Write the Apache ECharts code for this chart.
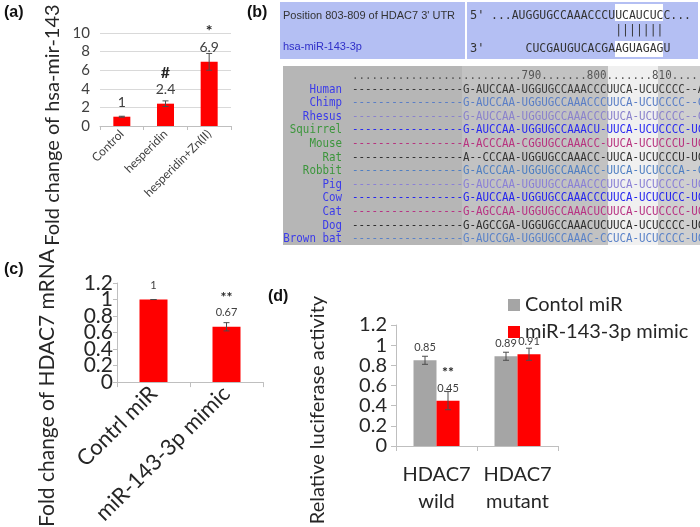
<!DOCTYPE html>
<html><head><meta charset="utf-8">
<script src="https://cdn.jsdelivr.net/npm/echarts@6/dist/echarts.min.js"></script>
<style>html,body{margin:0;padding:0;background:#fff}#c{width:700px;height:527px}</style>
</head><body><div id="c"></div>
<script>
// ---- Panel (a) ----
const catsA = ['Control', 'hesperidin', 'hesperidin+Zn(II)'];
const valsA = [1, 2.4, 6.9];
const errA = [0.05, 0.3, 0.9];
const labelsA = ['1', '2.4', '6.9'];
const marksA = ['', '#', '*'];
const ticksA = [0, 10, 2];
// ---- Panel (c) ----
const catsC = ['Contrl miR', 'miR-143-3p mimic'];
const valsC = [1, 0.67];
const errC = [0, 0.05];
const labelsC = ['1', '0.67'];
const marksC = ['', '**'];
const tickValsC = [0, 0.2, 0.4, 0.6, 0.8, 1, 1.2];
const tickLabelsC = ['0', '0.2', '0.4', '0.6', '0.8', '1', '1.2'];
// ---- Panel (d) ----
const catsD = ['HDAC7\nwild', 'HDAC7\nmutant'];
const namesD = ['Contol miR', 'miR-143-3p mimic'];
const valsDctrl = [0.85, 0.89];
const valsDmimic = [0.45, 0.91];
const errDctrl = [0.04, 0.04];
const errDmimic = [0.09, 0.06];
const labelsDctrl = ['0.85', '0.89'];
const labelsDmimic = ['0.45', '0.91'];
const marksDmimic = ['**', ''];
const ticksCD = [0, 1.2, 0.2];
// ---- Panel (b) ----
const utrLabel = "Position 803-809 of HDAC7 3' UTR";
const mirLabel = 'hsa-miR-143-3p';
const utrSeq = '...AUGGUGCCAAACCCUUCAUCUCC...';
const pairSeq = '|||||||';
const mirSeq = 'CUCGAUGUCACGAAGUAGAGU';
const rulerText = '..........................790.......800.......810......';
const species = ['Human', 'Chimp', 'Rhesus', 'Squirrel', 'Mouse', 'Rat', 'Robbit', 'Pig', 'Cow', 'Cat', 'Dog', 'Brown bat'];
const alignSeqs = [
  '-----------------G-AUCCAA-UGGUGCCAAACCCUUCA-UCUCCCC--AA',
  '-----------------G-AUCCAA-UGGUGCCAAACCCUUCA-UCUCCCC--CA',
  '-----------------G-AUCCAA-UGGUGCCAAACCCUUCA-UCUCCCC--CA',
  '-----------------G-AUCCAA-UGGUGCCAAACU-UUCA-UCUCCCC-UCA',
  '-----------------A-ACCCAA-CGGUGCCAAACC-UUCA-UCUCCCU-UCA',
  '-----------------A--CCCAA-UGGUGCCAAACC-UUCA-UCUCCCU-UCA',
  '-----------------G-ACCCAA-UGGUGCCAAACC-UUCA-UCUCCCA--CA',
  '-----------------G-AUCCAA-UGUUGCCAAACCCUUCA-UCUCCCC-UCA',
  '-----------------G-AUCCAA-UGGUGCCAAACCCUUCA-UCUCUCC-UCA',
  '-----------------G-AGCCAA-UGGUGCCAAACUCUUCA-UCUCCCC-UCA',
  '-----------------G-AGCCGA-UGGUGCCAAACUCUUCA-UCUCCCC-UCA',
  '-----------------G-AUCCGA-UGGUGCCAAAC-CCUCA-UCUCCCC-UCA'
];
const speciesColors = ['#3b3bea','#3b3bea','#3b3bea','#3c963c','#3c963c','#3c963c','#3c963c','#3b3bea','#3b3bea','#3b3bea','#3b3bea','#3b3bea'];
const seqColors = ['#3a3a3a','#5a7ec6','#8a82cc','#2a2af0','#b8337f','#333333','#4f7fc2','#8a80d6','#2626ee','#b83383','#2f2f2f','#5a82c8'];

const FONT = 'Lato';
const RED = '#ff0000';
const GRAY = '#a5a5a5';
const TXT = '#262626';

function errRender(offset) {
  return function (params, api) {
    const x = api.value(0), v = api.value(1), e = api.value(2);
    const t = api.coord([x, v + e]);
    const b = api.coord([x, v - e]);
    const cx = t[0] + offset;
    const st = { stroke: '#4d4d4d', lineWidth: 1 };
    return { type: 'group', children: [
      { type: 'line', shape: { x1: cx, y1: t[1], x2: cx, y2: b[1] }, style: st },
      { type: 'line', shape: { x1: cx - 3, y1: t[1], x2: cx + 3, y2: t[1] }, style: st },
      { type: 'line', shape: { x1: cx - 3, y1: b[1], x2: cx + 3, y2: b[1] }, style: st }
    ] };
  };
}
function tickLabelRender(params, api) {
  const v = api.value(1);
  const p = api.coord([0, v]);
  return { type: 'text', x: params.coordSys.x - 4, y: p[1],
    style: { text: tickLabelsC[params.dataIndex], fill: TXT, fontSize: 21, fontFamily: FONT,
      align: 'right', verticalAlign: 'middle' } };
}
function richLabel(labels, marks, mSize, vSize, mLH, vLH) {
  return {
    show: true, position: 'top', distance: 6,
    formatter: p => (marks[p.dataIndex] ? '{m|' + marks[p.dataIndex] + '}\n' : '') + '{v|' + labels[p.dataIndex] + '}',
    rich: {
      m: { fontSize: mSize, lineHeight: mLH, color: TXT, fontFamily: FONT, fontWeight: 'bold' },
      v: { fontSize: vSize, lineHeight: vLH, color: '#404040', fontFamily: FONT }
    }
  };
}
const axisLineGray = { show: true, lineStyle: { color: '#bfbfbf', width: 1 } };

const graphics = [];
function txt(x, y, text, o) {
  o = o || {};
  graphics.push({ type: 'text', x: x, y: y, rotation: o.rotation || 0, scaleX: o.scaleX || 1,
    style: { text: text, fill: o.color || TXT, fontSize: o.size || 12, fontFamily: o.family || FONT,
      fontWeight: o.weight || 'normal', align: o.align || 'left', verticalAlign: 'middle' } });
}
function rect(x, y, w, h, fill) {
  graphics.push({ type: 'rect', shape: { x: x, y: y, width: w, height: h }, style: { fill: fill } });
}
// panel labels
txt(4, 13, '(a)', { size: 16, weight: 'bold', family: 'Liberation Sans', color: '#111' });
txt(247, 13, '(b)', { size: 16, weight: 'bold', family: 'Liberation Sans', color: '#111' });
txt(4, 270, '(c)', { size: 16, weight: 'bold', family: 'Liberation Sans', color: '#111' });
txt(268, 297, '(d)', { size: 16, weight: 'bold', family: 'Liberation Sans', color: '#111' });
// axis titles
txt(53, 125, 'Fold change of hsa-mir-143', { size: 20, align: 'center', rotation: Math.PI / 2 });
txt(47, 388, 'Fold change of HDAC7 mRNA', { size: 21, align: 'center', rotation: Math.PI / 2 });
txt(318, 410, 'Relative luciferase activity', { size: 20, align: 'center', rotation: Math.PI / 2 });

// panel (b) upper box
rect(280, 2, 418, 57, '#b4bff3');
rect(465, 2, 2, 57, '#ffffff');
rect(615, 4, 48, 17, '#ffffff');
rect(615, 41, 48, 16, '#ffffff');
txt(283, 16, utrLabel, { size: 11, family: 'Liberation Sans', color: '#333' });
txt(283, 47, mirLabel, { size: 11, family: 'Liberation Sans', color: '#2f2fc8' });
const MONO = 'DejaVu Sans Mono';
txt(470, 16, "5'", { size: 12, family: MONO, color: '#333' });
txt(470, 49, "3'", { size: 12, family: MONO, color: '#333' });
const upW = 6.9;
txt(491, 16, utrSeq, { size: 12.6, family: MONO, color: '#333', scaleX: upW / (12.6 * 0.602) });
txt(491 + 18 * upW, 31, pairSeq, { size: 12.6, family: MONO, color: '#333', scaleX: upW / (12.6 * 0.602) });
txt(491 + 5 * upW, 49, mirSeq, { size: 12.6, family: MONO, color: '#333', scaleX: upW / (12.6 * 0.602) });

// panel (b) lower alignment
rect(283, 66, 417, 179, '#b6b6b6');
rect(462, 66, 238, 179, '#c2c2c2');
rect(608, 66, 50, 179, 'rgba(255,255,255,0.75)');
rect(658, 66, 42, 179, 'rgba(255,255,255,0.22)');
const chW = 6.53, fs = 12.2, sx = chW / (fs * 0.602);
txt(352, 76, rulerText, { size: fs, family: MONO, color: '#555', scaleX: sx });
species.forEach((s, i) => {
  const y = 89.5 + i * 13.6;
  txt(342, y, s, { size: fs, family: MONO, color: speciesColors[i], align: 'right', scaleX: sx });
  txt(352, y, alignSeqs[i], { size: fs, family: MONO, color: seqColors[i], scaleX: sx });
});

const option = {
  animation: false,
  textStyle: { fontFamily: FONT },
  graphic: graphics,
  legend: {
    data: namesD, orient: 'vertical', left: 503, top: 290, itemWidth: 12, itemHeight: 12, itemGap: 7,
    icon: 'rect', textStyle: { fontSize: 20, color: TXT, fontFamily: FONT }
  },
  grid: [
    { left: 100, top: 33, width: 131, height: 93 },
    { left: 117, top: 283, width: 146, height: 101 },
    { left: 396, top: 325, width: 162, height: 121 }
  ],
  xAxis: [
    { type: 'category', gridIndex: 0, data: catsA, axisLine: axisLineGray,
      axisTick: { show: true, length: 4, lineStyle: { color: '#bfbfbf' } },
      axisLabel: { rotate: 45, interval: 0, fontSize: 12, color: '#404040', margin: 6 } },
    { type: 'category', gridIndex: 1, data: catsC, axisLine: axisLineGray,
      axisTick: { show: true, length: 5, lineStyle: { color: '#bfbfbf' } },
      axisLabel: { rotate: 45, interval: 0, fontSize: 22, color: TXT, margin: 8 } },
    { type: 'category', gridIndex: 2, data: catsD, axisLine: axisLineGray,
      axisTick: { show: true, length: 5, lineStyle: { color: '#bfbfbf' } },
      axisLabel: { interval: 0, fontSize: 20, lineHeight: 27, color: TXT, margin: 15 } }
  ],
  yAxis: [
    { type: 'value', gridIndex: 0, min: ticksA[0], max: ticksA[1], interval: ticksA[2],
      axisLine: { show: false }, axisTick: { show: false },
      splitLine: { show: true, lineStyle: { color: '#d9d9d9' } },
      axisLabel: { fontSize: 15, color: '#404040', margin: 10 } },
    { type: 'value', gridIndex: 1, min: ticksCD[0], max: ticksCD[1], interval: ticksCD[2],
      axisLine: axisLineGray, axisTick: { show: true, length: 4, lineStyle: { color: '#bfbfbf' } },
      splitLine: { show: false }, axisLabel: { show: false } },
    { type: 'value', gridIndex: 2, min: ticksCD[0], max: ticksCD[1], interval: ticksCD[2],
      axisLine: axisLineGray, axisTick: { show: true, length: 5, lineStyle: { color: '#bfbfbf' } },
      splitLine: { show: false },
      axisLabel: { fontSize: 20, color: TXT, margin: 9, showMinLabel: true, showMaxLabel: true } }
  ],
  series: [
    { type: 'bar', xAxisIndex: 0, yAxisIndex: 0, data: valsA, barWidth: 17, itemStyle: { color: RED },
      label: richLabel(labelsA, marksA, 16, 14, 17, 16) },
    { type: 'custom', xAxisIndex: 0, yAxisIndex: 0, renderItem: errRender(0), encode: { x: 0, y: 1 }, z: 5,
      data: valsA.map((v, i) => [i, v, errA[i]]) },
    { type: 'bar', xAxisIndex: 1, yAxisIndex: 1, data: valsC, barWidth: 28, itemStyle: { color: RED },
      label: Object.assign(richLabel(labelsC, marksC, 14, 11, 16, 13), { distance: 8 }) },
    { type: 'custom', xAxisIndex: 1, yAxisIndex: 1, renderItem: errRender(0), encode: { x: 0, y: 1 }, z: 5,
      data: valsC.map((v, i) => [i, v, errC[i]]) },
    { type: 'custom', xAxisIndex: 1, yAxisIndex: 1, renderItem: tickLabelRender, encode: { x: 0, y: 1 },
      clip: false, silent: true, data: tickValsC.map(v => [0, v]) },
    { name: namesD[0], type: 'bar', xAxisIndex: 2, yAxisIndex: 2, data: valsDctrl, barWidth: 23, barGap: '0%',
      itemStyle: { color: GRAY }, label: richLabel(labelsDctrl, ['', ''], 14, 11, 18, 13) },
    { name: namesD[1], type: 'bar', xAxisIndex: 2, yAxisIndex: 2, data: valsDmimic, barWidth: 23, barGap: '0%',
      itemStyle: { color: RED }, label: richLabel(labelsDmimic, marksDmimic, 14, 11, 18, 13) },
    { type: 'custom', xAxisIndex: 2, yAxisIndex: 2, renderItem: errRender(-11.5), encode: { x: 0, y: 1 }, z: 5,
      data: valsDctrl.map((v, i) => [i, v, errDctrl[i]]) },
    { type: 'custom', xAxisIndex: 2, yAxisIndex: 2, renderItem: errRender(11.5), encode: { x: 0, y: 1 }, z: 5,
      data: valsDmimic.map((v, i) => [i, v, errDmimic[i]]) }
  ]
};
const chart = echarts.init(document.getElementById('c'), null, { renderer: 'canvas' });
chart.setOption(option);
</script>
</body></html>
